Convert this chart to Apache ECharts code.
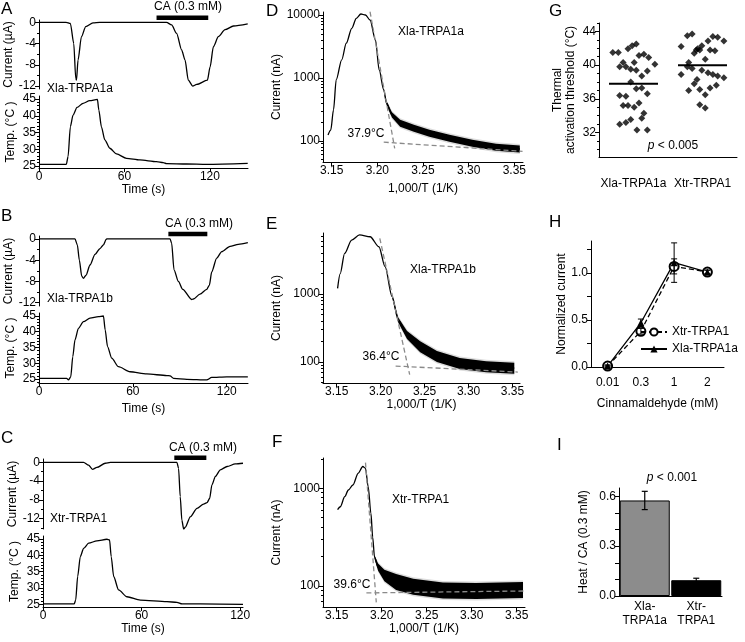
<!DOCTYPE html>
<html>
<head>
<meta charset="utf-8">
<title>TRPA1</title>
<script src="https://cdn.jsdelivr.net/npm/echarts@6/dist/echarts.min.js"></script>
<style>body{margin:0;background:#fff}</style>
</head>
<body>
<div id="main" style="width:745px;height:642px;"></div>
<script type="text/javascript">
var FONT = 'Liberation Sans, Arial, Helvetica, sans-serif';

// ---- A/B/C : current (uA) and temperature (C) vs time (s) ----
var timeTicks = [0, 60, 120];
var aCurrent = [[0,0],[19,0],[22,-0.2],[24.4,-4],[25.8,-10.6],[26.3,-10.9],[27.4,-7.1],[29.8,-2.7],[32.8,-0.8],[37.9,-0.1],[42.6,0],[89.5,0],[93.1,-0.5],[96.6,-2.1],[100.1,-5.2],[102.5,-7.1],[104.8,-10.9],[107.9,-12.0],[110.7,-11.7],[118.2,-10.9],[120.1,-8.4],[122.4,-4.6],[125.9,-2.7],[130.6,-1.4],[136.5,-0.7],[146.5,-0.3]];
var aTemp = [[0,25.5],[19.2,25.5],[20.4,27.8],[22,36.7],[23.9,40.2],[26.7,42.5],[30.9,43.7],[35.6,44.5],[41,44.9],[42,41.7],[43.8,36.7],[46.2,32.8],[49.7,30.3],[54.4,28.6],[61.4,27.3],[70.8,26.8],[82.5,26.3],[87.2,26.0],[89.5,25.7],[103.6,25.6],[117.7,25.5],[146.5,25.8]];
var aCaTimes = [82.5, 118.8];

var bCurrent = [[0,0],[23,0],[24.5,-1.1],[25.8,-4],[27.3,-7],[28.4,-7.4],[30.1,-6.8],[32.6,-4.9],[35.8,-2.9],[39,-1.8],[41.2,-1.1],[42.9,-0.1],[43.3,0],[83.8,0],[84.8,-0.8],[86.3,-5.8],[89.1,-8],[91.9,-9.5],[97.6,-11.4],[98.7,-11.3],[102.9,-10.4],[107.2,-9.5],[108.9,-8.7],[110.4,-6.2],[113.6,-3.6],[116.8,-2.4],[122.1,-1.4],[127.4,-1.0],[133.5,-0.7]];
var bTemp = [[0,25.2],[17.7,25.2],[18.8,24.7],[20.3,25.7],[21.6,32.1],[23,37.4],[25.2,41.1],[28.4,43.2],[32.6,44.3],[38,44.8],[41.2,45],[42.3,40.6],[43.8,35.3],[46.5,31.6],[50.8,28.9],[58.2,27.3],[68.9,26.6],[81.7,26.1],[83.8,26],[86,25.2],[94.5,24.9],[107.2,24.7],[110.4,25.5],[120,25.7],[133.5,25.7]];
var bCaTimes = [82.7, 107.6];

var cCurrent = [[0,0],[24.7,0],[27.7,-0.6],[30.1,-1.5],[32.8,-1.1],[37.9,-0.2],[41,0],[81.5,0],[82.5,-1.3],[83.5,-7.3],[84.5,-12.3],[85.6,-14.2],[86.6,-13.8],[89.6,-11.6],[93.7,-9.8],[97.7,-8.9],[99.8,-8.6],[101.4,-7.7],[102.8,-4.8],[104.9,-3],[107.9,-1.6],[112,-0.9],[117,-0.35],[121.7,-0.2]];
var cTemp = [[0,25.1],[19,25.1],[19.9,26.3],[21.1,33.5],[22.7,39.6],[24.7,42.1],[27.8,43.7],[32.8,44.4],[38.9,44.9],[40.5,44.7],[41.5,39.6],[43,33.5],[46,29.4],[51.1,27.3],[59.2,26.3],[75.4,25.8],[81.5,25.6],[84.6,25.1],[95.7,25.1],[121.7,25.0]];
var cCaTimes = [79.9, 99.4];

// ---- D/E/F : current (nA) vs 1000/T ----
var invTTicks = [3.15, 3.20, 3.25, 3.30, 3.35];
var logTicks = [100, 1000, 10000];
var dCurve = [[3.146,124],[3.149,148],[3.152,310],[3.155,940],[3.161,1940],[3.166,3560],[3.172,6150],[3.177,8850],[3.182,10370],[3.187,10000],[3.192,8330],[3.198,4000],[3.202,1340],[3.207,650],[3.210,400],[3.216,258],[3.225,190],[3.240,158],[3.257,132],[3.279,110],[3.304,91],[3.330,79],[3.356,74]];
var dSteep = [[3.192,11300],[3.219,76]];
var dFlat = [[3.207,95],[3.359,68]];
var eCurve = [[3.151,1210],[3.154,2000],[3.159,3960],[3.167,6220],[3.176,7400],[3.188,6960],[3.198,4960],[3.205,2520],[3.213,920],[3.220,414],[3.230,250],[3.245,167],[3.264,120],[3.290,95],[3.320,85],[3.352,81]];
var eSteep = [[3.199,6600],[3.233,65]];
var eFlat = [[3.217,87],[3.356,71]];
var fCurve = [[3.151,604],[3.154,647],[3.159,820],[3.163,960],[3.168,1080],[3.174,1430],[3.179,1670],[3.182,1600],[3.185,1040],[3.188,556],[3.190,317],[3.192,198],[3.196,156],[3.203,128],[3.216,110],[3.235,98],[3.268,90],[3.305,89],[3.357,91]];
var fSteep = [[3.182,1830],[3.194,68]];
var fFlat = [[3.183,85],[3.359,89]];

// ---- G : thermal activation thresholds ----
var gGroups = ['Xla-TRPA1a', 'Xtr-TRPA1'];
var gXla = [[0.20,41.5],[0.28,41.5],[0.42,41.95],[0.48,42.3],[0.54,42.5],[0.58,41.15],[0.65,41.3],[0.72,40.9],[0.35,40.3],[0.51,40.3],[0.81,40.1],[0.30,39.8],[0.39,39.8],[0.46,39.5],[0.54,39.4],[0.70,39.3],[0.62,38.7],[0.46,38.0],[0.54,37.2],[0.62,37.3],[0.70,36.6],[0.30,36.4],[0.39,36.3],[0.58,35.5],[0.35,35.2],[0.42,35.2],[0.51,35.0],[0.65,34.3],[0.62,33.7],[0.46,33.55],[0.39,33.2],[0.30,33.0],[0.55,32.3],[0.70,32.3]];
var gXtr = [[1.28,43.5],[1.35,43.7],[1.65,43.4],[1.72,43.3],[1.81,42.85],[1.58,42.85],[1.19,42.2],[1.49,42.3],[1.43,41.95],[1.41,41.8],[1.46,41.8],[1.61,41.8],[1.68,41.7],[1.38,41.4],[1.54,40.7],[1.30,40.3],[1.28,39.8],[1.35,39.6],[1.19,38.9],[1.49,39.4],[1.58,39.1],[1.65,38.9],[1.72,38.7],[1.81,38.5],[1.38,37.8],[1.42,38.3],[1.61,37.3],[1.70,37.6],[1.30,37.0],[1.46,37.1],[1.54,36.5],[1.46,35.3],[1.54,34.9]];
var gMeans = [37.8, 40.0];

// ---- H : concentration response ----
var hCats = ['0.01', '0.3', '1', '2'];
var hXtr = [0.01, 0.38, 1.07, 1.01];
var hXtrErr = [0.01, 0.03, 0.08, 0.02];
var hXla = [0.01, 0.47, 1.11, 1.01];
var hXlaErr = [0.01, 0.04, 0.21, 0.02];

// ---- I : heat / CA ratio ----
var iCats = ['Xla-\nTRPA1a', 'Xtr-\nTRPA1'];
var iVals = [0.575, 0.095];
var iErr = [0.055, 0.012];

var grids = [], xAxes = [], yAxes = [], series = [];

function grid(l, t, w, h) {
    grids.push({left: l, top: t, width: w, height: h});
    return grids.length - 1;
}
function range(a, b, step) {
    var out = [];
    for (var i = 0; a + i * step <= b + 1e-9; i++) out.push(+(a + i * step).toFixed(4));
    return out;
}
function axis(type, gi, min, max, labels, ticks, extra) {
    var o = {
        type: type, gridIndex: gi, min: min, max: max,
        axisLine: {show: true, onZero: false, lineStyle: {color: '#000', width: 1}},
        axisTick: {show: true, length: 4, lineStyle: {color: '#000', width: 1}, customValues: ticks},
        axisLabel: {show: true, color: '#000', fontSize: 12, fontFamily: FONT, margin: 3, customValues: labels},
        splitLine: {show: false},
        nameLocation: 'middle',
        nameTextStyle: {color: '#000', fontSize: 12, fontFamily: FONT}
    };
    if (type === 'log') o.logBase = 10;
    for (var k in extra) {
        if (typeof extra[k] === 'object' && o[k] && !Array.isArray(extra[k])) Object.assign(o[k], extra[k]);
        else o[k] = extra[k];
    }
    return o;
}
function minorY(gi, type, min, max, ticks) {
    var o = {type: type, gridIndex: gi, min: min, max: max, position: 'left',
        axisLine: {show: false}, axisLabel: {show: false}, splitLine: {show: false},
        axisTick: {show: true, length: 2, lineStyle: {color: '#000'}, customValues: ticks}};
    if (type === 'log') o.logBase = 10;
    yAxes.push(o);
}
function addX(o) { xAxes.push(o); return xAxes.length - 1; }
function addY(o) { o.position = 'left'; yAxes.push(o); return yAxes.length - 1; }
function line(xi, yi, data, extra) {
    var s = {type: 'line', xAxisIndex: xi, yAxisIndex: yi, data: data, symbol: 'none',
        smooth: 0.25, smoothMonotone: 'x', lineStyle: {color: '#000', width: 1.3}, silent: true, z: 3};
    for (var k in extra) s[k] = extra[k];
    series.push(s);
}
// noisy part of a trace: a filled band around the read points, h0 -> h1 px half height
function band(xi, yi, pts, h0, h1, color, z) {
    series.push({type: 'custom', xAxisIndex: xi, yAxisIndex: yi, data: pts, silent: true, z: z, clip: true,
        encode: {x: 0, y: 1},
        renderItem: function (params, api) {
            if (params.dataIndex !== 0) return null;
            var up = [], lo = [];
            for (var i = 0; i < pts.length; i++) {
                var c = api.coord(pts[i]);
                var h = h0 + (h1 - h0) * Math.min(1, i / 3);
                up.push([c[0], c[1] - h]);
                lo.unshift([c[0], c[1] + h]);
            }
            return {type: 'polygon', shape: {points: up.concat(lo)}, style: {fill: color}};
        }});
}

// ---- build the three time-course panels ----
function timePanel(left, width, top1, h1, cur, curMin, curMax, top2, h2, tmin, tmax, tMax, curData, tempData, caTimes, caLevel, timeGap) {
    var g1 = grid(left, top1, width, h1);
    var x1 = addX({type: 'value', gridIndex: g1, min: 0, max: tMax, show: false});
    var y1 = addY(axis('value', g1, curMin, curMax, cur, cur, {
        name: 'Current (µA)', nameGap: 22, axisLabel: {formatter: function (v) { return String(Math.round(v)); }}
    }));
    minorY(g1, 'value', curMin, curMax, range(-14, 0, 2).filter(function (v) { return v % 4 !== 0 && v >= curMin; }));
    var g2 = grid(left, top2, width, h2);
    var x2 = addX(axis('value', g2, 0, tMax, timeTicks, timeTicks, {
        name: 'Time (s)', nameGap: timeGap, axisLabel: {margin: 3}
    }));
    var y2 = addY(axis('value', g2, tmin, tmax, [25, 30, 35, 40, 45], [25, 30, 35, 40, 45], {
        name: 'Temp. (°C )', nameGap: 22
    }));
    minorY(g2, 'value', tmin, tmax, range(24, 46, 1).filter(function (v) { return v % 5 !== 0 && v >= tmin && v <= tmax; }));
    line(x1, y1, curData);
    line(x2, y2, tempData);
    line(x1, y1, caTimes.map(function (t) { return [t, caLevel]; }),
        {smooth: false, clip: false, lineStyle: {color: '#000', width: 4.5}});
}

timePanel(39, 209, 20, 69, [0, -4, -8, -12], -12.56, 0.43, 96, 72, 24.4, 45.9, 146.7, aCurrent, aTemp, aCaTimes, 0.87, 14);
timePanel(39, 209, 236, 70, [0, -4, -8, -12], -12.62, 0.56, 313, 70, 23.73, 45.95, 133.6, bCurrent, bTemp, bCaTimes, 0.94, 20);
timePanel(43, 200, 459, 70, [0, -4, -8, -12], -14.19, 0.70, 536, 71, 24.17, 45.89, 121.7, cCurrent, cTemp, cCaTimes, 0.98, 12);

// ---- build the Arrhenius panels ----
function logPanel(top, width, height, xmin, xmax, ymin, ymax, curve, bandFrom, h0, h1, steep, flat, nameGapX) {
    var g = grid(323, top, width, height);
    var xi = addX(axis('value', g, xmin, xmax, invTTicks, invTTicks, {
        name: '1,000/T (1/K)', nameGap: nameGapX,
        axisLabel: {formatter: function (v) { return v.toFixed(2); }}
    }));
    var labels = logTicks.filter(function (v) { return v >= ymin && v <= ymax; });
    var yi = addY(axis('log', g, ymin, ymax, labels, labels, {
        name: 'Current (nA)', nameGap: 40,
        axisLabel: {formatter: function (v) { return String(Math.round(v)); }}
    }));
    var minors = [];
    [10, 100, 1000].forEach(function (d) { for (var m = 2; m <= 9; m++) if (d * m >= ymin && d * m <= ymax) minors.push(d * m); });
    minorY(g, 'log', ymin, ymax, minors);
    line(xi, yi, curve, {smooth: 0.3});
    var tail = curve.filter(function (p) { return p[0] >= bandFrom; });
    band(xi, yi, tail, h0 + 1, h1 + 1.5, '#dcdcdc', 2);
    band(xi, yi, tail, h0, h1, '#000', 4);
    var dash = {smooth: false, z: 5, lineStyle: {color: '#8a8a8a', width: 1.3, type: [5, 3]}};
    line(xi, yi, steep, dash);
    line(xi, yi, flat, dash);
}
logPanel(12, 200, 150, 3.1405, 3.3595, 46, 11160, dCurve, 3.207, 1, 3.5, dSteep, dFlat, 21);
logPanel(233, 197, 150, 3.1344, 3.3585, 49, 7900, eCurve, 3.213, 1, 5.5, eSteep, eFlat, 16);
logPanel(458, 202, 149, 3.1348, 3.3592, 61, 2040, fCurve, 3.192, 1.5, 8, fSteep, fFlat, 13);

// ---- G ----
(function () {
    var g = grid(599, 23, 138, 134);
    var xi = addX(axis('value', g, 0, 2, [0.5, 1.5], [], {
        axisTick: {show: false}, axisLabel: {margin: 21, formatter: function (v) { return gGroups[Math.round(v - 0.5)]; }}
    }));
    var yi = addY(axis('value', g, 29.1, 45, [32, 36, 40, 44], [32, 36, 40, 44], {
        name: 'Thermal\nactivation threshold (°C)', nameGap: 22, nameTextStyle: {lineHeight: 13}
    }));
    minorY(g, 'value', 29.1, 45, range(30, 45, 1).filter(function (v) { return v % 4 !== 0; }));
    [gXla, gXtr].forEach(function (pts) {
        series.push({type: 'scatter', xAxisIndex: xi, yAxisIndex: yi, data: pts, symbol: 'diamond',
            symbolSize: 7, itemStyle: {color: '#000'}, silent: true});
    });
    gMeans.forEach(function (m, i) {
        line(xi, yi, [[i + 0.145, m], [i + 0.855, m]], {smooth: false, lineStyle: {color: '#000', width: 2}});
    });
})();

// ---- H ----
(function () {
    var g = grid(591, 241, 133, 126);
    var xi = addX({type: 'category', gridIndex: g, data: hCats, boundaryGap: true,
        name: 'Cinnamaldehyde (mM)', nameLocation: 'middle', nameGap: 31,
        nameTextStyle: {color: '#000', fontSize: 12, fontFamily: FONT},
        axisLine: {lineStyle: {color: '#000'}},
        axisTick: {alignWithLabel: true, length: 4, lineStyle: {color: '#000'}},
        axisLabel: {color: '#000', fontSize: 12, fontFamily: FONT, margin: 10, interval: 0}});
    var yi = addY(axis('value', g, 0, 1.34, [0, 0.5, 1.0], [0, 0.25, 0.5, 0.75, 1.0, 1.25], {
        name: 'Normalized current', nameGap: 21,
        axisLabel: {formatter: function (v) { return v.toFixed(1); }}
    }));
    function errBars(vals, errs) {
        series.push({type: 'custom', xAxisIndex: xi, yAxisIndex: yi, silent: true, z: 6,
            data: vals.map(function (v, i) { return [i, v - errs[i], v + errs[i]]; }),
            encode: {x: 0, y: [1, 2]},
            renderItem: function (params, api) {
                var lo = api.coord([api.value(0), api.value(1)]);
                var hi = api.coord([api.value(0), api.value(2)]);
                var st = {stroke: '#000', lineWidth: 1};
                return {type: 'group', children: [
                    {type: 'line', shape: {x1: lo[0], y1: lo[1], x2: hi[0], y2: hi[1]}, style: st},
                    {type: 'line', shape: {x1: lo[0] - 3, y1: lo[1], x2: lo[0] + 3, y2: lo[1]}, style: st},
                    {type: 'line', shape: {x1: hi[0] - 3, y1: hi[1], x2: hi[0] + 3, y2: hi[1]}, style: st}
                ]};
            }});
    }
    series.push({name: 'Xtr-TRPA1', type: 'line', xAxisIndex: xi, yAxisIndex: yi, data: hXtr,
        symbol: 'emptyCircle', symbolSize: 9, silent: true,
        lineStyle: {color: '#000', width: 1.3, type: [5, 3]}, itemStyle: {color: '#000', borderWidth: 1.3}});
    series.push({name: 'Xla-TRPA1a', type: 'line', xAxisIndex: xi, yAxisIndex: yi, data: hXla,
        symbol: 'triangle', symbolSize: 7, silent: true,
        lineStyle: {color: '#000', width: 1.3}, itemStyle: {color: '#000'}});
    errBars(hXtr, hXtrErr);
    errBars(hXla, hXlaErr);
})();

// ---- I ----
(function () {
    var g = grid(619, 488, 103, 108);
    var xi = addX({type: 'category', gridIndex: g, data: iCats,
        axisLine: {lineStyle: {color: '#000'}}, axisTick: {show: false},
        axisLabel: {color: '#000', fontSize: 12, fontFamily: FONT, margin: 4, lineHeight: 14, interval: 0}});
    var yi = addY(axis('value', g, 0, 0.65, [0, 0.3, 0.6], range(0, 0.6, 0.1), {
        name: 'Heat / CA (0.3 mM)', nameGap: 29,
        axisLabel: {formatter: function (v) { return v.toFixed(1); }}
    }));
    series.push({type: 'bar', xAxisIndex: xi, yAxisIndex: yi, barWidth: 50, silent: true,
        data: iVals.map(function (v, i) {
            return {value: v, itemStyle: {color: i === 0 ? '#8c8c8c' : '#000', borderColor: '#000', borderWidth: 1}};
        })});
    series.push({type: 'custom', xAxisIndex: xi, yAxisIndex: yi, silent: true, z: 6,
        data: iVals.map(function (v, i) { return [i, v - iErr[i], v + iErr[i]]; }),
        encode: {x: 0, y: [1, 2]},
        renderItem: function (params, api) {
            var lo = api.coord([api.value(0), api.value(1)]);
            var hi = api.coord([api.value(0), api.value(2)]);
            var st = {stroke: '#000', lineWidth: 1.2};
            return {type: 'group', children: [
                {type: 'line', shape: {x1: lo[0], y1: lo[1], x2: hi[0], y2: hi[1]}, style: st},
                {type: 'line', shape: {x1: lo[0] - 3, y1: lo[1], x2: lo[0] + 3, y2: lo[1]}, style: st},
                {type: 'line', shape: {x1: hi[0] - 3, y1: hi[1], x2: hi[0] + 3, y2: hi[1]}, style: st}
            ]};
        }});
})();

function txt(x, y, s, opt) {
    var st = {text: s, fill: '#000', font: '12px ' + FONT, align: 'left', verticalAlign: 'middle'};
    for (var k in opt) st[k] = opt[k];
    return {type: 'text', x: x, y: y, style: st, silent: true};
}
var letter = {font: '17px ' + FONT, verticalAlign: 'top'};
var italicRich = {i: {fontStyle: 'italic', font: 'italic 12px ' + FONT}};
var graphics = [
    txt(1, 1, 'A', letter), txt(1, 208, 'B', letter), txt(1, 430, 'C', letter),
    txt(266, 3, 'D', letter), txt(266, 216, 'E', letter), txt(272, 434, 'F', letter),
    txt(549, 3, 'G', letter), txt(549, 214, 'H', letter), txt(557, 437, 'I', letter),
    txt(188, 7, 'CA (0.3 mM)', {align: 'center'}),
    txt(199, 224, 'CA (0.3 mM)', {align: 'center'}),
    txt(203, 448, 'CA (0.3 mM)', {align: 'center'}),
    txt(47, 89, 'Xla-TRPA1a'), txt(47, 299, 'Xla-TRPA1b'), txt(50, 519, 'Xtr-TRPA1'),
    txt(398, 32, 'Xla-TRPA1a'), txt(410, 270, 'Xla-TRPA1b'), txt(392, 500, 'Xtr-TRPA1'),
    txt(366, 134, '37.9°C', {align: 'center'}),
    txt(381, 357, '36.4°C', {align: 'center'}),
    txt(352, 585, '39.6°C', {align: 'center'}),
    txt(673, 146, '{i|p} < 0.005', {align: 'center', rich: italicRich}),
    txt(672, 478, '{i|p} < 0.001', {align: 'center', rich: italicRich})
];

var myChart = echarts.init(document.getElementById('main'));
myChart.setOption({
    animation: false,
    backgroundColor: '#fff',
    textStyle: {fontFamily: FONT},
    grid: grids,
    xAxis: xAxes,
    yAxis: yAxes,
    legend: {
        data: ['Xtr-TRPA1', 'Xla-TRPA1a'], orient: 'vertical', left: 640, top: 326,
        itemWidth: 26, itemHeight: 9, itemGap: 5, padding: 0, selectedMode: false,
        textStyle: {color: '#000', fontSize: 12, fontFamily: FONT}
    },
    series: series,
    graphic: graphics
});
</script>
</body>
</html>
